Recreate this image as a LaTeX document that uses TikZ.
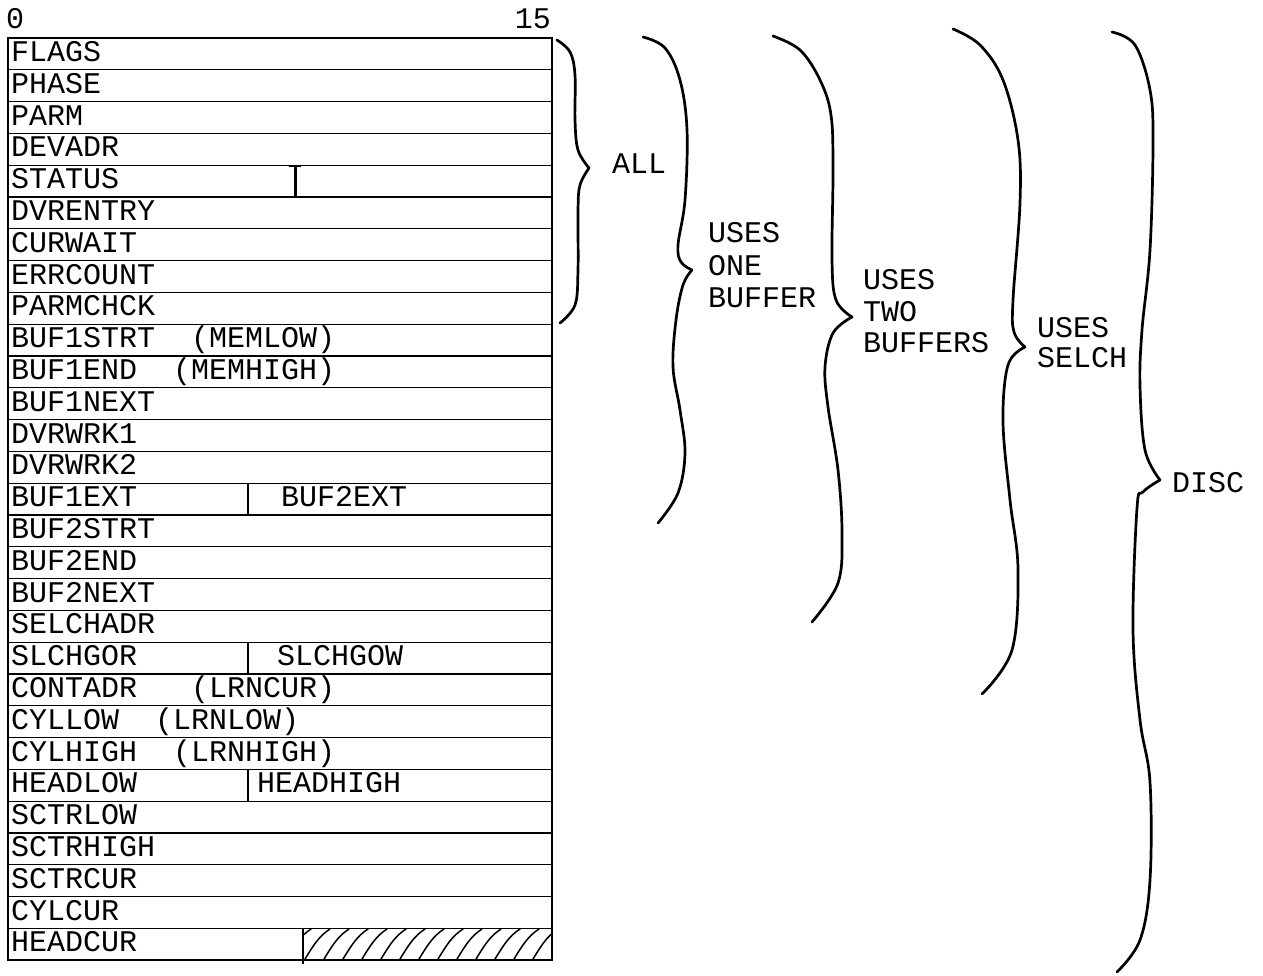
\documentclass[tikz,border=0pt]{standalone}
\usepackage{fontspec}
\newfontfamily\tw{Liberation Mono}
\begin{document}
\begin{tikzpicture}[x=1pt,y=-1pt,
  txt/.style={font={\tw\fontsize{30}{32}\selectfont}, inner sep=0pt, anchor=west},
  rowtxt/.style={font={\tw\fontsize{30}{32}\selectfont}, inner sep=0pt, anchor=base west},
  gridline/.style={line width=1.3pt},
  outer/.style={line width=1.8pt},
  divider/.style={line width=2pt},
  hatchline/.style={line width=1.5pt, line cap=round},
  brace/.style={line width=2.7pt, line cap=round, line join=round}]
\useasboundingbox (0,0) rectangle (1263,975);
\fill[white] (0,0) rectangle (1263,975);

% table grid
\coordinate (tl) at (8,38);
\coordinate (br) at (552,{38+29*31.8});
\foreach \k in {1,...,28} \draw[gridline] (8,{38+\k*31.8}) -- (552,{38+\k*31.8});

% hatched part of HEADCUR
\begin{scope}
  \clip (303,{38+28*31.8}) rectangle (552,{38+29*31.8});
  \foreach \x in {286,305,...,560}
    \draw[hatchline] (\x,959) .. controls (\x+8,946) and (\x+14,936) .. (\x+25,929);
\end{scope}

\draw[outer] (tl) rectangle (br);

% bit labels
\node[rowtxt] (b0) at (6,28) {0};
\node[rowtxt, anchor=base east] (b15) at (551,28) {15};

% row texts
\foreach \i/\t in {1/FLAGS,2/PHASE,3/PARM,4/DEVADR,5/STATUS,6/DVRENTRY,7/CURWAIT,
  8/ERRCOUNT,9/PARMCHCK,10/BUF1STRT\ \ (MEMLOW),11/BUF1END\ \ (MEMHIGH),12/BUF1NEXT,
  13/DVRWRK1,14/DVRWRK2,15/BUF1EXT,16/BUF2STRT,17/BUF2END,18/BUF2NEXT,19/SELCHADR,
  20/SLCHGOR,21/CONTADR\ \ \ (LRNCUR),22/CYLLOW\ \ (LRNLOW),23/CYLHIGH\ \ (LRNHIGH),
  24/HEADLOW,25/SCTRLOW,26/SCTRHIGH,27/SCTRCUR,28/CYLCUR,29/HEADCUR}
  \node[rowtxt] (r\i) at (11,{38+(\i-0.5)*31.8+7.5}) {\t};

% second halves
\node[rowtxt] (r15b) at (281,{38+14.5*31.8+7.5}) {BUF2EXT};
\node[rowtxt] (r20b) at (277,{38+19.5*31.8+7.5}) {SLCHGOW};
\node[rowtxt] (r24b) at (257,{38+23.5*31.8+7.5}) {HEADHIGH};

% dividers
\draw[line width=3pt] (295,{38+4*31.8}) -- (295,{38+5*31.8});
\draw[line width=2pt] (289,{38+4*31.8+1}) -- (301,{38+4*31.8+1});
\draw[divider] (248,{38+14*31.8}) -- (248,{38+15*31.8});
\draw[divider] (248,{38+19*31.8}) -- (248,{38+20*31.8});
\draw[divider] (248,{38+23*31.8}) -- (248,{38+24*31.8});
\draw[divider] (303,{38+28*31.8}) -- (303,{38+29*31.8+4});

% braces
\draw[brace] plot[smooth, tension=0.6] coordinates {(557,40) (570,52) (575,75) (575,120) (578,150) (589,168)};
\draw[brace] plot[smooth, tension=0.6] coordinates {(589,168) (580,185) (578,210) (578,270) (575,305) (560,323)};

\draw[brace] plot[smooth, tension=0.6] coordinates {(643,37) (665,48) (680,80) (687,130) (685,200) (678,245) (681,262) (692,270)};
\draw[brace] plot[smooth, tension=0.6] coordinates {(692,270) (683,285) (676,320) (673,367) (680,410) (685,453) (678,493) (658,523)};

\draw[brace] plot[smooth, tension=0.6] coordinates {(773,36) (800,50) (820,80) (831,115) (833,170) (832,260) (836,300) (852,317)};
\draw[brace] plot[smooth, tension=0.6] coordinates {(852,317) (833,333) (825,367) (828,407) (838,470) (842,533) (838,583) (812,622)};

\draw[brace] plot[smooth, tension=0.6] coordinates {(953,29) (980,45) (1003,80) (1018,140) (1020,203) (1013,300) (1014,332) (1025,347)};
\draw[brace] plot[smooth, tension=0.6] coordinates {(1025,347) (1008,365) (1003,422) (1010,500) (1018,569) (1012,650) (982,694)};

\draw[brace] plot[smooth, tension=0.6] coordinates {(1112,32) (1135,45) (1150,90) (1153,142) (1150,250) (1142,330) (1140,386) (1145,450) (1160,480)};
\draw[brace] plot[smooth, tension=0.6] coordinates {(1160,480) (1143,492) (1137,508) (1133,630) (1140,720) (1150,782) (1150,880) (1140,940) (1117,972)};

% brace labels
\node[txt] (all) at (612,164) {ALL};
\node[txt, align=left, font={\tw\fontsize{30}{32.5}\selectfont}] (one) at (708,265.5) {USES\\ONE\\BUFFER};
\node[txt, align=left, font={\tw\fontsize{30}{31.5}\selectfont}] (two) at (863,311.5) {USES\\TWO\\BUFFERS};
\node[txt, align=left, font={\tw\fontsize{30}{30}\selectfont}] (selch) at (1037,343) {USES\\SELCH};
\node[txt] (disc) at (1172,483) {DISC};
\end{tikzpicture}
\end{document}
